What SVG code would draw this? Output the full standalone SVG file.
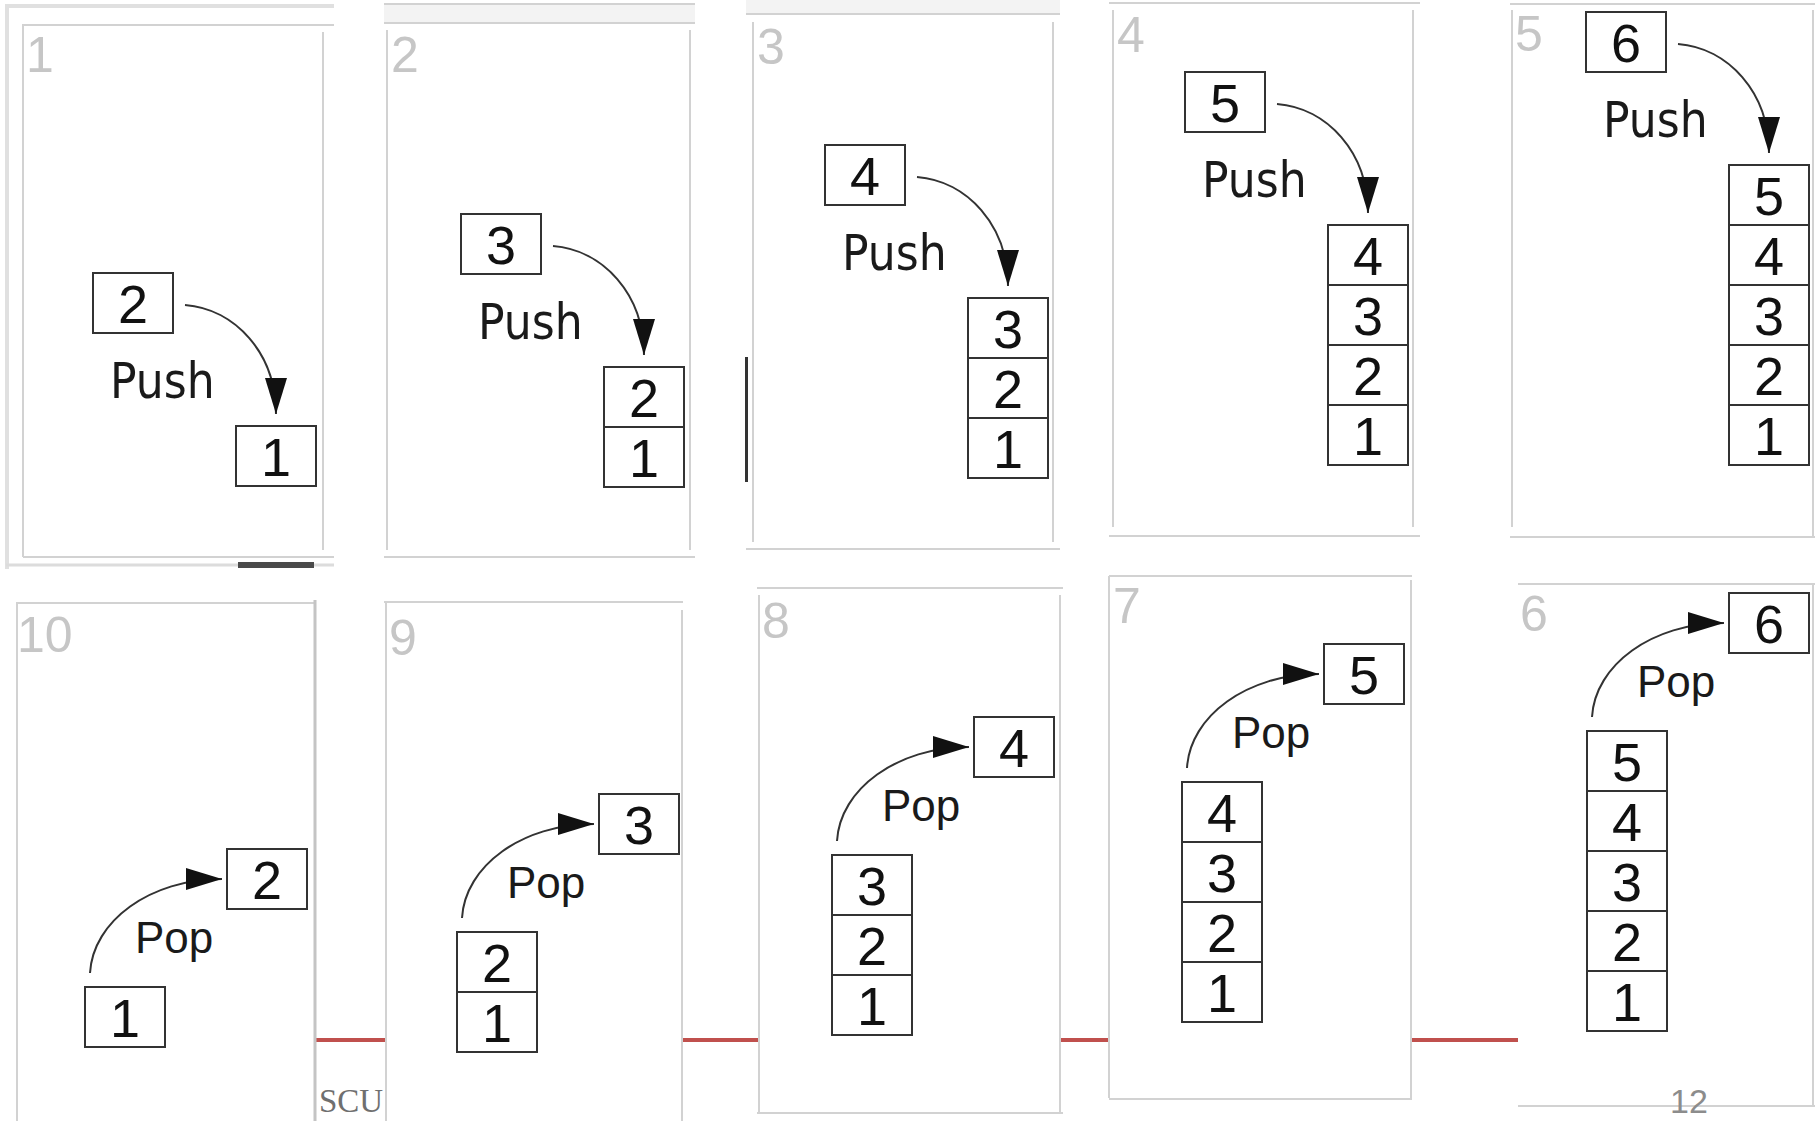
<svg xmlns="http://www.w3.org/2000/svg" width="1820" height="1121" viewBox="0 0 1820 1121">
<defs>
<style>
.frame{fill:none;stroke:#d2d2d2;stroke-width:2}
.outer{fill:none;stroke:#e0e0e0;stroke-width:4}
.band{fill:#f3f3f3}
.panel{fill:#ffffff}
.step{font-family:"Liberation Sans",Arial,sans-serif;font-size:50px;fill:#c6c6c6}
.box{fill:#ffffff;stroke:#333333;stroke-width:2}
.num{font-family:"Liberation Sans",Arial,sans-serif;font-size:54px;fill:#111111;text-anchor:middle}
.conn{fill:none;stroke:#333333;stroke-width:2}
.push{font-family:"DejaVu Sans Condensed","DejaVu Sans",Verdana,sans-serif;font-size:49px;fill:#1a1a1a}
.pop{font-family:"Liberation Sans",Arial,sans-serif;font-size:44px;fill:#1a1a1a}
</style>
<marker id="ah" markerUnits="userSpaceOnUse" markerWidth="36" markerHeight="22" refX="36" refY="11" orient="auto">
<path d="M0,0 L36,11 L0,22 z" fill="#111111"/>
</marker>
</defs>
<rect width="1820" height="1121" fill="#ffffff"/>

<!-- footer red rule (behind panels) -->
<line x1="316" y1="1040" x2="1518" y2="1040" stroke="#c0504d" stroke-width="4"/>

<g id="frames">
<!-- panel 1 -->
<path class="outer" d="M7,569 V6 H334"/>
<path class="frame" d="M23,557 V25 H334 M323,32 V550 M23,557 H334"/>
<line x1="6" y1="565" x2="334" y2="565" stroke="#dcdcdc" stroke-width="3"/>
<rect x="238" y="562" width="76" height="6" fill="#4a4a4a"/>
<!-- panel 2 -->
<rect class="band" x="384" y="4" width="311" height="19"/>
<path class="frame" d="M384,4 H695 M384,23 H695 M387,30 V550 M690,30 V550 M384,557 H695"/>
<!-- panel 3 -->
<rect class="band" x="746" y="0" width="314" height="14"/>
<path class="frame" d="M746,14 H1060 M753,22 V542 M1053,22 V542 M746,549 H1060"/>
<rect x="745" y="357" width="3" height="125" fill="#333333"/>
<!-- panel 4 -->
<path class="frame" d="M1109,3 H1420 M1113,10 V527 M1413,10 V527 M1109,536 H1420"/>
<!-- panel 5 -->
<path class="frame" d="M1510,4 H1815 M1512,10 V527 M1813,10 V537 M1510,537 H1815"/>
<!-- panel 10 -->
<rect class="panel" x="17" y="603" width="298" height="518"/>
<path class="frame" d="M16,603 H316 M17,603 V1121"/>
<line x1="315" y1="600" x2="315" y2="1121" stroke="#c4c4c4" stroke-width="3"/>
<!-- panel 9 -->
<rect class="panel" x="386" y="602" width="296" height="519"/>
<path class="frame" d="M384,602 H683 M386,602 V1121 M682,610 V1121"/>
<!-- panel 8 -->
<rect class="panel" x="759" y="588" width="301" height="525"/>
<path class="frame" d="M757,588 H1063 M759,595 V1112 M1060,595 V1112 M757,1113 H1063"/>
<!-- panel 7 -->
<rect class="panel" x="1109" y="576" width="302" height="523"/>
<path class="frame" d="M1109,576 H1412 M1109,576 V1098 M1411,580 V1098 M1109,1099 H1412"/>
<!-- panel 6 -->
<rect class="panel" x="1518" y="584" width="295" height="522"/>
<path class="frame" d="M1518,584 H1815 M1813,584 V1106 M1518,1106 H1815"/>
</g>

<g id="step-labels">
<text class="step" x="26" y="72">1</text>
<text class="step" x="391" y="72">2</text>
<text class="step" x="757" y="64">3</text>
<text class="step" x="1117" y="52">4</text>
<text class="step" x="1515" y="51">5</text>
<text class="step" x="17" y="652">10</text>
<text class="step" x="389" y="655">9</text>
<text class="step" x="762" y="638">8</text>
<text class="step" x="1113" y="623">7</text>
<text class="step" x="1520" y="631">6</text>
</g>

<!-- Push panels -->
<g id="s1-item"><rect class="box" x="93" y="273" width="80" height="60"/><text class="num" x="133" y="323">2</text></g>
<g id="s1-stack"><rect class="box" x="236" y="426" width="80" height="60"/><text class="num" x="276" y="476">1</text></g>

<g id="s2-item"><rect class="box" x="461" y="214" width="80" height="60"/><text class="num" x="501" y="264">3</text></g>
<g id="s2-stack">
<rect class="box" x="604" y="367" width="80" height="60"/><text class="num" x="644" y="417">2</text>
<rect class="box" x="604" y="427" width="80" height="60"/><text class="num" x="644" y="477">1</text>
</g>

<g id="s3-item"><rect class="box" x="825" y="145" width="80" height="60"/><text class="num" x="865" y="195">4</text></g>
<g id="s3-stack">
<rect class="box" x="968" y="298" width="80" height="60"/><text class="num" x="1008" y="348">3</text>
<rect class="box" x="968" y="358" width="80" height="60"/><text class="num" x="1008" y="408">2</text>
<rect class="box" x="968" y="418" width="80" height="60"/><text class="num" x="1008" y="468">1</text>
</g>

<g id="s4-item"><rect class="box" x="1185" y="72" width="80" height="60"/><text class="num" x="1225" y="122">5</text></g>
<g id="s4-stack">
<rect class="box" x="1328" y="225" width="80" height="60"/><text class="num" x="1368" y="275">4</text>
<rect class="box" x="1328" y="285" width="80" height="60"/><text class="num" x="1368" y="335">3</text>
<rect class="box" x="1328" y="345" width="80" height="60"/><text class="num" x="1368" y="395">2</text>
<rect class="box" x="1328" y="405" width="80" height="60"/><text class="num" x="1368" y="455">1</text>
</g>

<g id="s5-item"><rect class="box" x="1586" y="12" width="80" height="60"/><text class="num" x="1626" y="62">6</text></g>
<g id="s5-stack">
<rect class="box" x="1729" y="165" width="80" height="60"/><text class="num" x="1769" y="215">5</text>
<rect class="box" x="1729" y="225" width="80" height="60"/><text class="num" x="1769" y="275">4</text>
<rect class="box" x="1729" y="285" width="80" height="60"/><text class="num" x="1769" y="335">3</text>
<rect class="box" x="1729" y="345" width="80" height="60"/><text class="num" x="1769" y="395">2</text>
<rect class="box" x="1729" y="405" width="80" height="60"/><text class="num" x="1769" y="455">1</text>
</g>

<!-- Pop panels -->
<g id="s10-stack"><rect class="box" x="85" y="987" width="80" height="60"/><text class="num" x="125" y="1037">1</text></g>
<g id="s10-item"><rect class="box" x="227" y="849" width="80" height="60"/><text class="num" x="267" y="899">2</text></g>

<g id="s9-stack">
<rect class="box" x="457" y="932" width="80" height="60"/><text class="num" x="497" y="982">2</text>
<rect class="box" x="457" y="992" width="80" height="60"/><text class="num" x="497" y="1042">1</text>
</g>
<g id="s9-item"><rect class="box" x="599" y="794" width="80" height="60"/><text class="num" x="639" y="844">3</text></g>

<g id="s8-stack">
<rect class="box" x="832" y="855" width="80" height="60"/><text class="num" x="872" y="905">3</text>
<rect class="box" x="832" y="915" width="80" height="60"/><text class="num" x="872" y="965">2</text>
<rect class="box" x="832" y="975" width="80" height="60"/><text class="num" x="872" y="1025">1</text>
</g>
<g id="s8-item"><rect class="box" x="974" y="717" width="80" height="60"/><text class="num" x="1014" y="767">4</text></g>

<g id="s7-stack">
<rect class="box" x="1182" y="782" width="80" height="60"/><text class="num" x="1222" y="832">4</text>
<rect class="box" x="1182" y="842" width="80" height="60"/><text class="num" x="1222" y="892">3</text>
<rect class="box" x="1182" y="902" width="80" height="60"/><text class="num" x="1222" y="952">2</text>
<rect class="box" x="1182" y="962" width="80" height="60"/><text class="num" x="1222" y="1012">1</text>
</g>
<g id="s7-item"><rect class="box" x="1324" y="644" width="80" height="60"/><text class="num" x="1364" y="694">5</text></g>

<g id="s6-stack">
<rect class="box" x="1587" y="731" width="80" height="60"/><text class="num" x="1627" y="781">5</text>
<rect class="box" x="1587" y="791" width="80" height="60"/><text class="num" x="1627" y="841">4</text>
<rect class="box" x="1587" y="851" width="80" height="60"/><text class="num" x="1627" y="901">3</text>
<rect class="box" x="1587" y="911" width="80" height="60"/><text class="num" x="1627" y="961">2</text>
<rect class="box" x="1587" y="971" width="80" height="60"/><text class="num" x="1627" y="1021">1</text>
</g>
<g id="s6-item"><rect class="box" x="1729" y="593" width="80" height="60"/><text class="num" x="1769" y="643">6</text></g>

<g id="connectors">
<path class="conn" marker-end="url(#ah)" d="M185,305 C235,309 276,353 276,414"/>
<path class="conn" marker-end="url(#ah)" d="M553,246 C603,250 644,294 644,355"/>
<path class="conn" marker-end="url(#ah)" d="M917,177 C967,181 1008,225 1008,286"/>
<path class="conn" marker-end="url(#ah)" d="M1277,104 C1327,108 1368,152 1368,213"/>
<path class="conn" marker-end="url(#ah)" d="M1678,44 C1728,48 1769,92 1769,153"/>
<path class="conn" marker-end="url(#ah)" d="M90,973 C93,921 150,879 222,879"/>
<path class="conn" marker-end="url(#ah)" d="M462,918 C465,866 522,824 594,824"/>
<path class="conn" marker-end="url(#ah)" d="M837,841 C840,789 897,747 969,747"/>
<path class="conn" marker-end="url(#ah)" d="M1187,768 C1190,716 1247,674 1319,674"/>
<path class="conn" marker-end="url(#ah)" d="M1592,717 C1595,665 1652,623 1724,623"/>
<text class="push" x="110" y="398">Push</text>
<text class="push" x="478" y="339">Push</text>
<text class="push" x="842" y="270">Push</text>
<text class="push" x="1202" y="197">Push</text>
<text class="push" x="1603" y="137">Push</text>
<text class="pop" x="135" y="953">Pop</text>
<text class="pop" x="507" y="898">Pop</text>
<text class="pop" x="882" y="821">Pop</text>
<text class="pop" x="1232" y="748">Pop</text>
<text class="pop" x="1637" y="697">Pop</text>
</g>

<g id="footer">
<text x="319" y="1112" font-family="'Liberation Serif','Times New Roman',serif" font-size="33" fill="#6f6f6f">SCU</text>
<text x="1689" y="1113" font-family="'Liberation Sans',Arial,sans-serif" font-size="34" fill="#8c8c8c" text-anchor="middle">12</text>
</g>
</svg>
